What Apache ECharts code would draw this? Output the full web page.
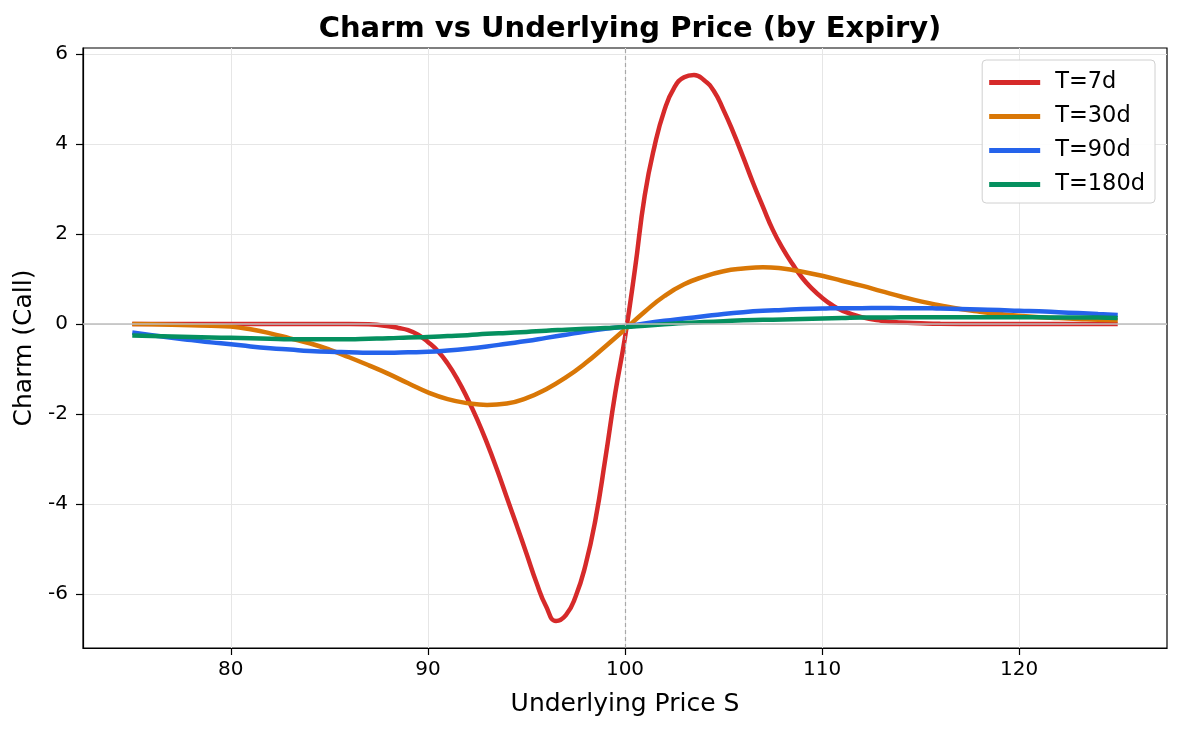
<!DOCTYPE html>
<html>
<head>
<meta charset="utf-8">
<script src="https://cdn.jsdelivr.net/npm/echarts@6/dist/echarts.min.js"></script>
<style>
html,body{margin:0;padding:0;background:#fff;}
#chart{width:1182px;height:730px;}
</style>
</head>
<body>
<div id="chart"></div>
<script>
// price grid shared by the slower curves
var prices = [75,76,77,78,79,80,81,82,83,84,85,86,87,88,89,90,91,92,93,94,95,96,97,98,99,100,
  101,102,103,104,105,106,107,108,109,110,111,112,113,114,115,116,117,118,119,120,121,122,123,124,125];

// T=7d is steep near the strike, so it gets a finer grid of its own
var prices7 = [75,78,81,84,85,86,87,88,88.5,89,89.5,90,90.5,91,91.5,92,92.5,93,93.5,94,94.5,95,95.5,96,96.5,97,97.5,98,98.5,99,99.5,100,
  100.5,101,101.5,102,102.5,103,103.5,104,104.5,105,105.5,106,106.5,107,107.5,108,108.5,109,109.5,110,110.5,111,112,113,114,115,116,118,121,125];
var charm7 = [0,0,0,0,0,0,-0.01,-0.05,-0.09,-0.14,-0.24,-0.40,-0.60,-0.88,-1.23,-1.65,-2.12,-2.65,-3.23,-3.85,-4.47,-5.10,-5.74,-6.28,-6.60,-6.47,-6.05,-5.35,-4.35,-3.00,-1.55,-0.30,
  1.20,2.85,3.95,4.75,5.25,5.48,5.53,5.42,5.18,4.75,4.25,3.70,3.13,2.60,2.09,1.68,1.33,1.02,0.78,0.58,0.42,0.30,0.15,0.07,0.03,0.015,0.005,0,0,0];

var charm30 = [0,-0.01,-0.02,-0.03,-0.04,-0.06,-0.12,-0.21,-0.32,-0.43,-0.57,-0.74,-0.92,-1.11,-1.32,-1.52,-1.67,-1.76,-1.80,-1.77,-1.65,-1.45,-1.19,-0.87,-0.50,-0.12,
  0.27,0.62,0.88,1.05,1.17,1.23,1.26,1.23,1.16,1.07,0.96,0.85,0.73,0.61,0.50,0.41,0.33,0.27,0.22,0.18,0.15,0.13,0.11,0.09,0.08];

var charm90 = [-0.19,-0.25,-0.31,-0.36,-0.41,-0.45,-0.50,-0.54,-0.57,-0.60,-0.62,-0.63,-0.64,-0.64,-0.63,-0.62,-0.59,-0.55,-0.50,-0.44,-0.38,-0.31,-0.24,-0.17,-0.11,-0.06,
  0.01,0.07,0.12,0.17,0.22,0.26,0.29,0.31,0.33,0.34,0.35,0.35,0.355,0.35,0.35,0.34,0.33,0.32,0.31,0.29,0.28,0.26,0.24,0.22,0.20];

var charm180 = [-0.26,-0.27,-0.28,-0.29,-0.30,-0.31,-0.32,-0.33,-0.34,-0.34,-0.34,-0.34,-0.33,-0.32,-0.30,-0.29,-0.27,-0.25,-0.22,-0.20,-0.18,-0.15,-0.13,-0.11,-0.09,-0.07,
  -0.04,-0.01,0.02,0.04,0.06,0.08,0.09,0.10,0.11,0.12,0.13,0.14,0.14,0.15,0.15,0.15,0.15,0.15,0.15,0.15,0.15,0.14,0.14,0.14,0.13];

var xTicks = [80,90,100,110,120];
var yTicks = [-6,-4,-2,0,2,4,6];
var strike = 100;

function pairs(xs, ys) {
    return xs.map(function (x, i) { return [x, ys[i]]; });
}

var font = 'DejaVu Sans';
var chart = echarts.init(document.getElementById('chart'));

function curve(name, xs, ys, color) {
    return {
        name: name,
        type: 'line',
        data: pairs(xs, ys),
        smooth: 0.5,
        showSymbol: false,
        symbol: 'none',
        lineStyle: {width: 4.5, color: color},
        itemStyle: {color: color},
        z: 3
    };
}

var option = {
    animation: false,
    backgroundColor: '#fff',
    title: {
        text: 'Charm vs Underlying Price (by Expiry)',
        left: 625,
        textAlign: 'center',
        top: 10,
        textStyle: {fontFamily: font, fontSize: 29, fontWeight: 'bold', color: '#000'}
    },
    legend: {
        orient: 'vertical',
        right: 27,
        top: 60,
        icon: 'rect',
        itemWidth: 51,
        itemHeight: 5,
        itemGap: 11,
        padding: [11, 10, 7, 7],
        borderColor: '#d0d0d0',
        borderWidth: 1,
        borderRadius: 4,
        backgroundColor: 'rgba(255,255,255,0.9)',
        textStyle: {fontFamily: font, fontSize: 22.5, color: '#000', padding: [0, 0, 0, 10]},
        data: ['T=7d', 'T=30d', 'T=90d', 'T=180d']
    },
    grid: {
        left: 83, right: 15, top: 48, bottom: 82,
        show: true, borderColor: '#000', borderWidth: 1.2,
        containLabel: false
    },
    xAxis: {
        type: 'value',
        min: 72.5,
        max: 127.5,
        name: 'Underlying Price S',
        nameLocation: 'middle',
        nameGap: 44,
        nameTextStyle: {fontFamily: font, fontSize: 25, color: '#000'},
        axisLine: {show: true, onZero: false, lineStyle: {color: '#000', width: 1.2}},
        axisTick: {show: true, length: 7, lineStyle: {color: '#000', width: 1.2}, customValues: xTicks},
        axisLabel: {fontFamily: font, fontSize: 20, color: '#000', margin: 12, customValues: xTicks},
        splitLine: {show: true, lineStyle: {color: '#e6e6e6', width: 1}}
    },
    yAxis: {
        type: 'value',
        min: -7.2,
        max: 6.13,
        name: 'Charm (Call)',
        nameLocation: 'middle',
        nameGap: 39,
        nameTextStyle: {fontFamily: font, fontSize: 25, color: '#000'},
        axisLine: {show: true, onZero: false, lineStyle: {color: '#000', width: 1.2}},
        axisTick: {show: true, length: 7, lineStyle: {color: '#000', width: 1.2}, customValues: yTicks},
        axisLabel: {fontFamily: font, fontSize: 20, color: '#000', margin: 15, customValues: yTicks},
        splitLine: {show: true, lineStyle: {color: '#e6e6e6', width: 1}}
    },
    series: [
        {
            name: 'guides',
            type: 'line',
            data: [],
            z: 1,
            silent: true,
            markLine: {
                silent: true,
                symbol: 'none',
                label: {show: false},
                data: [
                    {xAxis: strike, lineStyle: {type: [4, 3], color: '#a8a8a8', width: 1.2}},
                    {yAxis: 0, lineStyle: {type: 'solid', color: '#bdbdbd', width: 1.5}}
                ]
            }
        },
        curve('T=7d', prices7, charm7, '#d62a2a'),
        curve('T=30d', prices, charm30, '#d97706'),
        curve('T=90d', prices, charm90, '#2563eb'),
        curve('T=180d', prices, charm180, '#05905f')
    ]
};

chart.setOption(option);
</script>
</body>
</html>
